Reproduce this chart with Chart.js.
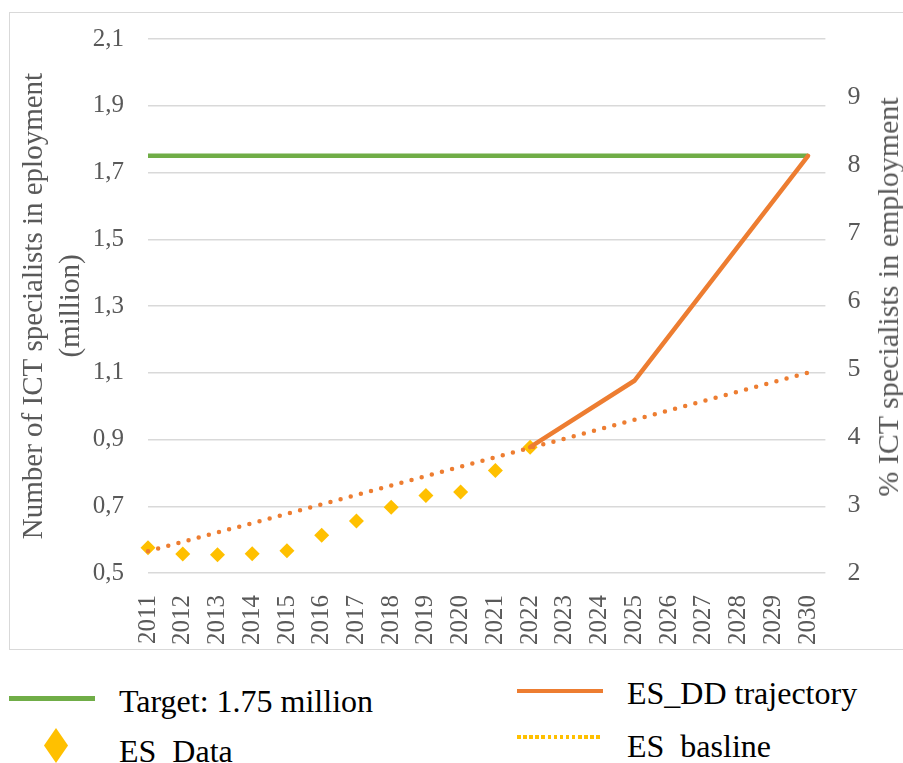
<!DOCTYPE html>
<html>
<head>
<meta charset="utf-8">
<script src="https://cdn.jsdelivr.net/npm/chart.js@4.4.1/dist/chart.umd.min.js"></script>
<style>
html,body{margin:0;padding:0;background:#fff;width:903px;height:763px;overflow:hidden;font-family:'Liberation Serif','Times New Roman',serif;}
#frame{position:absolute;left:9px;top:12px;width:910px;height:638px;border:1.5px solid #d9d9d9;box-sizing:border-box;}
#c{position:absolute;left:0;top:0;}
#rtitle{position:absolute;left:888px;top:297px;transform:translate(-50%,-50%) rotate(180deg);writing-mode:vertical-rl;font-size:30px;line-height:34px;color:#595959;white-space:nowrap;}
.lgt{position:absolute;font-size:32px;line-height:32px;color:#000;white-space:pre;}
.lgm{position:absolute;}
</style>
</head>
<body>
<div id="frame"></div>
<canvas id="c" width="903" height="650"></canvas>
<div id="rtitle"></div>
<div id="legend"></div>
<script>
// ---- data ----
const years = [2011,2012,2013,2014,2015,2016,2017,2018,2019,2020,2021,2022,2023,2024,2025,2026,2027,2028,2029,2030];
const dataYears = [2011,2012,2013,2014,2015,2016,2017,2018,2019,2020,2021,2022];
const esData = [0.576,0.557,0.555,0.558,0.567,0.613,0.656,0.697,0.732,0.743,0.807,0.877];
const trajYears = [2022,2025,2030];
const trajValues = [0.877,1.076,1.75];
const baseYears = [2011,2030];
const baseValues = [0.565,1.10];
const targetYears = [2011,2030];
const targetValues = [1.75,1.75];
const leftTicks = [0.5,0.7,0.9,1.1,1.3,1.5,1.7,1.9,2.1];
const rightTicks = [2,3,4,5,6,7,8,9];
const leftTitle = ['Number of ICT specialists in eployment','(million)'];
const rightTitle = '% ICT specialists in employment';
const labels = {target:'Target: 1.75 million', traj:'ES_DD trajectory', data:'ES\u00a0\u00a0Data', base:'ES\u00a0\u00a0basline'};

const pts = (xs, ys) => xs.map((x,i)=>({x:x, y:ys[i]}));
const FONT = "'Liberation Serif','Times New Roman',serif";
const GRAY = '#595959';

const chart = new Chart(document.getElementById('c'), {
  type: 'line',
  data: {
    datasets: [
      {label: labels.traj, data: pts(trajYears, trajValues), borderColor:'#ED7D31', borderWidth:4.5, pointRadius:0, order:0, yAxisID:'y', borderCapStyle:'round', borderJoinStyle:'round', clip:false},
      {label: labels.target, data: pts(targetYears, targetValues), borderColor:'#70AD47', borderWidth:4.5, pointRadius:0, order:1, yAxisID:'y', clip:false},
      {label: labels.base, data: pts(baseYears, baseValues), borderColor:'#ED7D31', borderWidth:4.5, borderDash:[0,10.5], borderCapStyle:'round', pointRadius:0, order:2, yAxisID:'y', clip:false},
      {label: labels.data, data: pts(dataYears, esData), showLine:false, pointStyle:'rectRot', pointRadius:7.5, pointHoverRadius:7.5, pointBackgroundColor:'#FFC000', pointBorderColor:'#FFC000', pointBorderWidth:0, order:3, yAxisID:'y', clip:false}
    ]
  },
  options: {
    responsive:false,
    animation:false,
    devicePixelRatio:1,
    layout:{padding:{top:39,left:0,right:0,bottom:0}},
    plugins:{legend:{display:false}, tooltip:{enabled:false}},
    scales:{
      x:{
        type:'linear', min:2011, max:2030.5,
        grid:{display:false}, border:{display:false},
        afterBuildTicks: s => { s.ticks = years.map(v=>({value:v})); },
        afterFit: s => { s.height = 77; },
        ticks:{color:GRAY, font:{family:FONT,size:25}, minRotation:90, maxRotation:90, autoSkip:false, padding:14,
          callback: v => String(v)}
      },
      y:{
        type:'linear', position:'left', min:0.5, max:2.1,
        afterBuildTicks: s => { s.ticks = leftTicks.map(v=>({value:v})); },
        afterFit: s => { s.width = 148; },
        grid:{color:'#d9d9d9', lineWidth:1.5, drawTicks:false}, border:{display:false},
        ticks:{color:GRAY, font:{family:FONT,size:25}, padding:24, callback: v => v.toFixed(1).replace('.',',')},
        title:{display:true, text:leftTitle, color:GRAY, font:{family:FONT,size:29,lineHeight:1.28}, padding:{top:16,bottom:0}}
      },
      y2:{
        type:'linear', position:'right', min:2, max:9.85, display:true,
        afterBuildTicks: s => { s.ticks = rightTicks.map(v=>({value:v})); },
        afterFit: s => { s.width = 77.6; },
        grid:{display:false, drawTicks:false}, border:{display:false},
        ticks:{color:GRAY, font:{family:FONT,size:26}, padding:22, callback: v => String(v)}
      }
    }
  }
});

document.getElementById('rtitle').textContent = rightTitle;

// ---- HTML legend (two columns as in the reference) ----
const lg = document.getElementById('legend');
function add(html){ lg.insertAdjacentHTML('beforeend', html); }
add(`<div class="lgm" style="left:9px;top:696px;width:86px;height:4.5px;background:#70AD47"></div>`);
add(`<div class="lgt" style="left:119px;top:685px">${labels.target}</div>`);
add(`<div class="lgm" style="left:517px;top:688.5px;width:86px;height:4.5px;background:#ED7D31"></div>`);
add(`<div class="lgt" style="left:627px;top:676.5px">${labels.traj}</div>`);
add(`<div class="lgm" style="left:44px;top:728px;width:24px;height:35px;background:#FFC000;clip-path:polygon(50% 0,100% 50%,50% 100%,0 50%)"></div>`);
add(`<div class="lgt" style="left:119px;top:735px">${labels.data}</div>`);
add(`<div class="lgm" style="left:517px;top:735px;width:85px;height:3.5px;background:repeating-linear-gradient(90deg,#FFC000 0 3.5px,transparent 3.5px 6.1px)"></div>`);
add(`<div class="lgt" style="left:627px;top:730px">${labels.base}</div>`);
</script>
</body>
</html>
